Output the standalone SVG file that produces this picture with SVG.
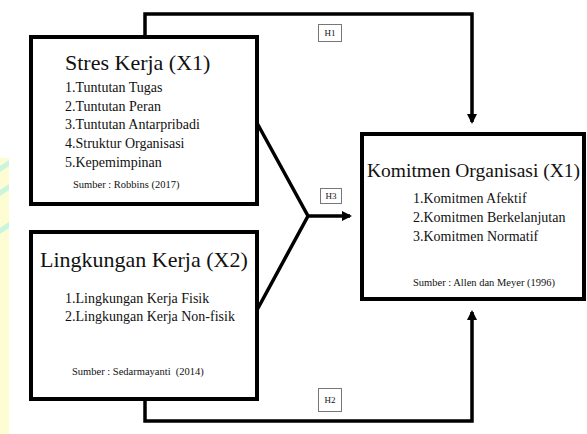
<svg xmlns="http://www.w3.org/2000/svg" width="587" height="434" viewBox="0 0 587 434">
<style>
.box{fill:#fff;stroke:#000;stroke-width:4}
.conn{fill:none;stroke:#000;stroke-width:3.5}
.lbl{fill:#fff;stroke:#777;stroke-width:1}
.t{fill:#111}
.title{font-size:22px}
.item{font-size:14px}
.src{font-size:10.5px}
.h{font-size:9px}
</style>
<defs>
<marker id="arr" markerWidth="10" markerHeight="10" refX="8" refY="5" orient="auto" markerUnits="userSpaceOnUse" viewBox="0 0 10 10">
<path d="M0,0 L10,5 L0,10 z" fill="#000"/>
</marker>
</defs>
<rect width="587" height="434" fill="#fff"/>
<g id="watermark">
<rect x="0" y="158" width="9" height="276" fill="#fdfcd2"/>
<path d="M0,166 L9,160 L9,166 L0,172 z" fill="#c8f5df"/>
<path d="M0,190 L9,184 L9,190 L0,196 z" fill="#c8f5df"/>
<path d="M0,228 L9,222 L9,228 L0,234 z" fill="#c8f5df"/>
</g>
<g id="connectors">
<path class="conn" d="M145,37 V14 H472 V122" marker-end="url(#arr)"/>
<path class="conn" d="M145,398 V421 H472 V312" marker-end="url(#arr)"/>
<path class="conn" d="M257,123 L308,216 L257,310"/>
<path class="conn" d="M308,216 H350" marker-end="url(#arr)"/>
</g>
<g font-family="'Liberation Serif', 'Times New Roman', serif">
<g id="label-H1"><rect class="lbl" x="318.5" y="24.5" width="23" height="17"/><text class="t h" x="330" y="36" text-anchor="middle">H1</text></g>
<g id="label-H3"><rect class="lbl" x="320.5" y="188.5" width="21" height="15"/><text class="t h" x="331" y="199" text-anchor="middle">H3</text></g>
<g id="label-H2"><rect class="lbl" x="318.5" y="388.5" width="23" height="23"/><text class="t h" x="330" y="403" text-anchor="middle">H2</text></g>
<g id="node-stres">
<rect class="box" x="31" y="37" width="226" height="167"/>
<text class="t title" x="65" y="70">Stres Kerja (X1)</text>
<text class="t item" x="65" y="92">1.Tuntutan Tugas</text>
<text class="t item" x="65" y="110.5">2.Tuntutan Peran</text>
<text class="t item" x="65" y="129">3.Tuntutan Antarpribadi</text>
<text class="t item" x="65" y="148">4.Struktur Organisasi</text>
<text class="t item" x="65" y="167">5.Kepemimpinan</text>
<text class="t src" x="73" y="188">Sumber : Robbins (2017)</text>
</g>
<g id="node-lingkungan">
<rect class="box" x="31" y="232" width="226" height="167"/>
<text class="t title" x="40" y="267">Lingkungan Kerja (X2)</text>
<text class="t item" x="65" y="303">1.Lingkungan Kerja Fisik</text>
<text class="t item" x="65" y="321">2.Lingkungan Kerja Non-fisik</text>
<text class="t src" x="72" y="375" xml:space="preserve">Sumber : Sedarmayanti  (2014)</text>
</g>
<g id="node-komitmen">
<rect class="box" x="362" y="134" width="222" height="165"/>
<text class="t" x="367" y="177" font-size="19.5">Komitmen Organisasi (X1)</text>
<text class="t item" x="413" y="203">1.Komitmen Afektif</text>
<text class="t item" x="413" y="222">2.Komitmen Berkelanjutan</text>
<text class="t item" x="413" y="241">3.Komitmen Normatif</text>
<text class="t src" x="413" y="286">Sumber : Allen dan Meyer (1996)</text>
</g>
</g>
</svg>
